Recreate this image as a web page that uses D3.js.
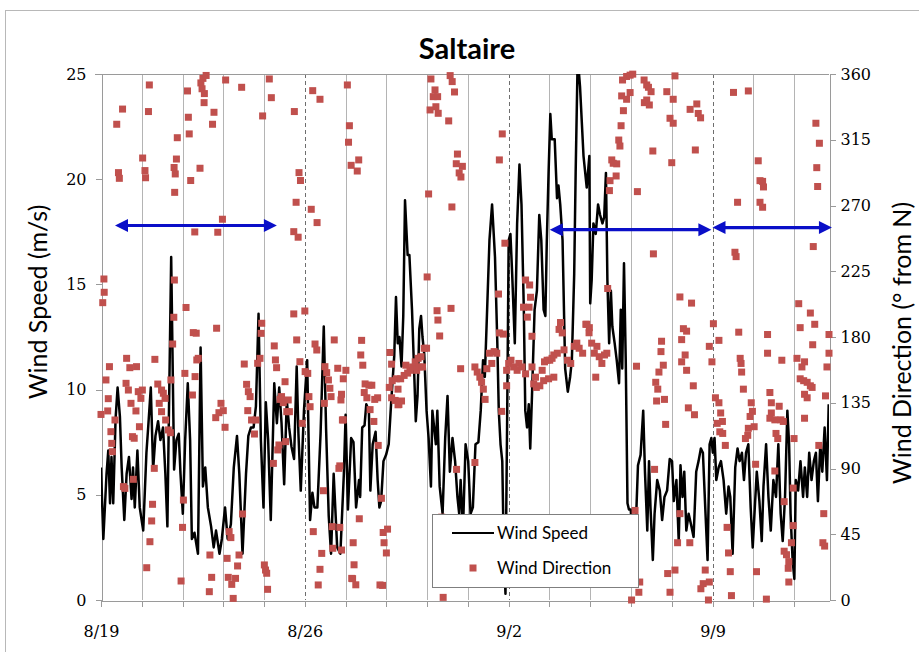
<!DOCTYPE html>
<html>
<head>
<meta charset="utf-8">
<script src="https://cdnjs.cloudflare.com/ajax/libs/d3/7.8.5/d3.min.js"></script>
<style>
  body { margin: 0; background: #fff; }
  svg text { font-family: Lato, "Open Sans", sans-serif; fill: #000; }
  .axis .tick text { font-family: "DejaVu Serif", serif; font-size: 16px; }
  .axis path, .axis line { stroke: #9a9a9a; shape-rendering: crispEdges; }
</style>
</head>
<body>
<svg id="chart" width="919" height="652"></svg>
<script>
// axis ticks
var speedTicks = [0, 5, 10, 15, 20, 25];
var dirTicks = [0, 45, 90, 135, 180, 225, 270, 315, 360];
var dateTicks = [0, 7, 14, 21];
var dateLabels = ["8/19", "8/26", "9/2", "9/9"];

// wind speed, [days since 8/19, m/s]
var windSpeed = [
  [0.00,6.3],[0.08,2.9],[0.19,6.0],[0.25,7.1],[0.31,4.6],[0.36,6.8],[0.42,4.6],[0.50,8.6],[0.57,10.1],[0.65,8.7],
  [0.71,6.3],[0.80,3.8],[0.88,6.0],[0.96,6.8],[1.05,4.8],[1.10,6.3],[1.16,4.4],[1.25,7.1],[1.33,4.4],[1.45,3.3],
  [1.56,7.0],[1.62,8.2],[1.71,10.1],[1.79,6.2],[1.87,7.8],[1.96,8.5],[2.04,7.6],[2.13,8.2],[2.21,6.0],[2.28,3.5],
  [2.32,7.6],[2.41,16.3],[2.51,6.2],[2.59,7.6],[2.67,7.9],[2.73,6.0],[2.81,4.1],[2.89,7.6],[2.98,10.3],[3.06,7.6],
  [3.12,2.9],[3.21,3.2],[3.33,2.2],[3.42,12.0],[3.50,5.4],[3.58,6.3],[3.67,4.4],[3.78,3.5],[3.87,2.5],[3.95,3.3],
  [4.07,2.2],[4.15,2.9],[4.26,4.4],[4.35,2.9],[4.46,3.6],[4.56,6.3],[4.67,7.8],[4.75,6.0],[4.86,2.2],[4.98,6.0],
  [5.06,7.8],[5.15,8.2],[5.24,8.2],[5.32,9.2],[5.41,13.6],[5.49,7.6],[5.58,4.4],[5.66,9.4],[5.74,7.6],[5.83,3.8],
  [5.95,10.3],[6.04,8.4],[6.12,10.1],[6.20,8.4],[6.29,5.5],[6.38,9.5],[6.46,8.2],[6.54,7.3],[6.63,6.7],[6.72,11.1],
  [6.78,7.9],[6.86,5.2],[6.97,9.0],[7.08,11.4],[7.18,3.8],[7.26,5.1],[7.33,4.4],[7.43,4.4],[7.54,7.9],[7.65,13.0],
  [7.73,8.1],[7.82,4.0],[7.90,2.2],[7.99,6.0],[8.11,2.5],[8.22,2.2],[8.34,6.0],[8.40,8.8],[8.48,4.3],[8.59,7.7],
  [8.67,7.5],[8.76,4.4],[8.86,5.7],[8.90,4.9],[8.97,8.2],[9.05,8.3],[9.11,9.3],[9.20,9.0],[9.25,5.2],[9.33,7.4],
  [9.43,8.0],[9.50,5.7],[9.56,4.4],[9.62,4.7],[9.70,6.6],[9.79,6.9],[9.88,7.4],[9.96,9.3],[10.07,11.6],[10.13,14.4],
  [10.19,12.2],[10.25,12.5],[10.32,11.1],[10.38,13.5],[10.44,19.0],[10.53,16.4],[10.59,16.4],[10.68,13.8],[10.76,10.6],[10.81,8.5],
  [10.87,9.7],[10.93,12.9],[10.99,13.5],[11.04,12.5],[11.10,11.7],[11.18,9.0],[11.25,7.7],[11.33,5.4],[11.38,9.0],[11.44,8.2],
  [11.50,7.4],[11.55,9.0],[11.63,5.4],[11.73,4.1],[11.82,7.7],[11.90,9.7],[11.98,6.1],[12.07,7.7],[12.16,6.6],[12.24,4.9],
  [12.30,4.1],[12.35,5.7],[12.43,3.3],[12.52,7.4],[12.61,6.6],[12.69,4.1],[12.77,4.4],[12.86,7.4],[12.96,7.5],[13.04,9.0],
  [13.12,11.4],[13.18,10.6],[13.26,13.8],[13.34,17.1],[13.43,18.8],[13.53,16.3],[13.61,12.2],[13.66,9.0],[13.72,7.4],[13.78,6.6],
  [13.83,2.5],[13.89,0.3],[13.95,9.0],[14.00,17.1],[14.06,17.4],[14.12,15.5],[14.21,12.2],[14.29,17.9],[14.37,20.7],[14.44,18.8],
  [14.52,13.8],[14.57,9.0],[14.63,8.2],[14.69,9.3],[14.74,7.2],[14.80,9.7],[14.89,13.8],[14.97,14.7],[15.05,18.3],[15.12,17.1],
  [15.20,13.8],[15.26,13.5],[15.31,17.1],[15.37,20.3],[15.43,23.1],[15.48,21.9],[15.58,21.9],[15.66,19.1],[15.71,19.7],[15.77,18.8],
  [15.85,17.1],[15.94,11.0],[16.03,9.9],[16.11,10.6],[16.17,11.4],[16.25,15.5],[16.30,20.3],[16.37,25.8],[16.45,24.4],[16.57,21.1],
  [16.68,19.6],[16.77,21.1],[16.80,14.1],[16.85,15.2],[16.91,17.9],[16.99,17.4],[17.07,18.8],[17.14,18.3],[17.22,17.9],[17.28,18.2],
  [17.34,20.3],[17.39,15.2],[17.45,12.2],[17.51,14.7],[17.56,13.0],[17.64,12.2],[17.71,11.4],[17.79,10.3],[17.85,13.8],[17.90,11.0],
  [17.96,16.0],[18.02,11.4],[18.08,4.6],[18.13,4.3],[18.19,4.3],[18.28,2.5],[18.36,3.3],[18.44,6.4],[18.53,6.9],[18.62,9.0],
  [18.68,6.1],[18.76,3.3],[18.82,6.6],[18.87,4.4],[18.95,1.9],[19.01,4.1],[19.10,5.7],[19.19,5.2],[19.27,3.8],[19.35,4.9],
  [19.44,5.2],[19.53,6.7],[19.61,6.6],[19.67,4.7],[19.76,5.7],[19.84,2.8],[19.90,6.4],[19.97,4.9],[20.03,6.1],[20.10,3.3],
  [20.18,4.1],[20.26,3.6],[20.35,3.0],[20.44,6.1],[20.52,6.6],[20.60,7.2],[20.67,7.0],[20.75,4.4],[20.83,1.9],[20.90,7.4],
  [20.96,7.7],[21.01,7.0],[21.07,7.7],[21.13,5.7],[21.21,6.3],[21.29,6.6],[21.38,5.7],[21.47,4.1],[21.55,5.4],[21.61,4.9],
  [21.69,2.2],[21.78,6.3],[21.86,7.2],[21.93,6.6],[22.01,7.0],[22.08,5.7],[22.15,7.0],[22.23,7.4],[22.31,4.4],[22.38,2.5],
  [22.46,4.6],[22.52,6.1],[22.61,4.7],[22.69,2.8],[22.75,5.4],[22.84,7.4],[22.92,4.9],[23.00,3.3],[23.09,5.7],[23.18,4.9],
  [23.26,7.4],[23.34,4.1],[23.41,2.8],[23.49,4.9],[23.57,9.0],[23.63,7.4],[23.68,4.1],[23.75,1.9],[23.81,1.0],[23.86,5.7],
  [23.94,5.2],[24.02,6.6],[24.11,4.9],[24.17,6.3],[24.25,4.9],[24.32,7.0],[24.40,5.7],[24.48,6.6],[24.55,7.0],[24.62,4.7],
  [24.70,7.4],[24.77,6.1],[24.85,8.2],[24.93,5.7],[24.99,9.3]
];

// wind direction, [days since 8/19, degrees from N]
var windDir = [
  [0.06,203.5],[0.11,210.6],[0.10,219.7],[0.54,325.6],[0.74,336],[0.60,292.5],[0.63,288.6],[1.43,302.5],[1.51,293.9],[1.53,289],
  [1.66,352.5],[1.63,334.3],[2.51,296],[2.55,291.6],[2.59,301.8],[2.53,279],[2.62,316.4],[3.03,319],[3.00,330.4],[2.97,348.4],
  [3.08,287.1],[3.40,295.5],[3.22,251.9],[3.50,357],[3.43,353.9],[3.47,349.9],[3.55,346.6],[3.54,340.4],[3.61,359],[3.88,333.8],
  [3.83,325.6],[4.17,260.6],[4.01,251.7],[4.28,355.9],[4.83,350.9],[5.55,331.3],[5.78,356.6],[5.85,343.8],[6.64,334.3],[6.80,292.5],
  [6.85,287.1],[6.70,272.2],[6.62,252.1],[6.77,248.3],[7.27,348.6],[7.52,342.7],[7.22,267.4],[7.42,258.3],[7.00,197.8],[6.62,195.8],
  [2.52,219],[2.50,193.5],[2.92,200.2],[3.97,186],[3.27,182.6],[5.52,189.4],[5.50,182.5],
  [0.00,127],[0.17,150.6],[0.23,129.4],[0.25,137.8],[0.29,159.7],[0.34,115.2],[0.37,107.2],[0.39,101.5],[0.48,123.2],[0.77,77.6],
  [0.82,76.4],[0.88,165.4],[0.99,159],[0.94,143.7],[0.86,148.3],[1.03,134.6],[1.08,111.8],[1.14,110.7],[1.20,129.4],[1.22,159.7],
  [1.11,82.6],[1.32,118.6],[1.28,142.6],[1.37,138],[1.42,143.7],[1.57,22.1],[1.68,39.9],[1.74,54.1],[1.77,65.5],[1.83,90.1],
  [1.85,164.7],[1.95,147.8],[2.00,134.6],[2.08,143.7],[2.14,141.5],[2.20,138],[2.08,128.9],[2.22,123.2],[2.31,116.4],[2.38,114.5],
  [2.40,150.6],[2.46,175.2],[2.75,13],[2.83,68.4],[2.80,49.7],[2.88,155.1],[3.17,183],[3.14,140.3],[3.23,152.9],[3.29,164.3],
  [3.34,165.4],[3.74,30.8],[3.72,5.7],[3.80,15.5],[3.94,124.8],[4.05,128.2],[4.12,134.6],[4.20,129.6],[4.26,118.2],[4.33,28.5],
  [4.37,15.5],[4.40,46.8],[4.46,42.7],[4.49,10.7],[4.54,1.1],[4.62,14.8],[4.69,23.3],[4.74,30.8],[4.86,58.9],[4.92,161.5],
  [5.00,147.6],[5.06,142.6],[5.12,139.2],[5.04,129.6],[5.17,123.2],[5.27,113.6],[5.32,123.2],[5.38,162],[5.46,165.4],[5.61,24],
  [5.65,20.5],[5.69,18.3],[5.72,7.3],[5.92,93.5],[5.95,173.9],[5.99,164.3],[6.03,159],[6.07,102.7],[6.11,106.1],[6.15,137.3],
  [6.20,139.2],[6.26,135.1],[6.32,149.4],[6.38,128.9],[6.43,136.9],[6.47,128.9],[6.34,108.4],[6.72,178],[6.83,163.1],[6.91,120.9],
  [7.01,156.3],[7.10,155.1],[7.14,139.2],[7.18,132.3],[7.29,46.8],[7.35,175.2],[7.41,171.1],[7.58,31.9],[7.52,21],[7.46,10.3],
  [7.64,74.8],[7.67,134.6],[7.69,159.7],[7.75,155.6],[7.81,150.6],[7.86,144.9],[7.90,139.2],[7.94,50.2],[8.01,178],[8.13,158.6],
  [8.17,90.1],[8.26,34.2],[8.24,136.9],[8.29,123.2],[7.96,35.4],
  [8.46,352.5],[8.53,324.6],[8.50,313.3],[8.85,301.2],[8.59,297.5],[8.80,293.6],[11.33,356.6],[11.47,349.1],[11.41,344.5],[11.56,344.5],
  [11.30,335.4],[11.50,337.6],[11.58,333.1],[11.94,327.9],[11.99,358.9],[12.06,354.8],[12.14,347.7],[11.25,277.9],[11.20,221.1],[12.05,269],
  [12.24,305.2],[12.20,298.6],[12.41,296.8],[12.30,292.3],[12.36,289.5],[11.54,198],[11.57,191.6],[12.02,199.6],[11.63,180.7],[13.68,301.2],
  [13.78,319],[13.87,244.2],[13.65,209.4],[13.82,182],[14.58,219],[14.72,215.6],[14.75,207.2],[14.51,200.4],[14.70,200.4],[14.64,193.6],
  [8.41,157.2],[8.32,151.4],[8.26,140.8],[8.32,123.3],[8.20,49.7],[8.95,177.7],[8.92,167.7],[8.99,160.7],[9.07,147.9],[9.20,147],
  [9.30,147],[9.04,142],[9.13,138.4],[9.24,130.3],[9.40,137.3],[9.50,138.4],[9.37,122.2],[9.52,105.8],[9.63,69.6],[8.87,55.6],
  [8.66,39.2],[8.69,24.1],[8.64,14.6],[8.75,10.4],[9.69,46.2],[9.84,48.5],[9.72,39.2],[9.80,32.2],[9.67,10],[8.20,91.8],
  [9.58,10.3],[8.61,14.8],
  [9.92,169.4],[9.98,161.4],[9.90,145.5],[9.98,138.4],[10.10,136.6],[10.20,133.6],[10.00,150.1],[10.14,151.4],[10.29,151.4],[10.41,153.7],
  [10.53,155.3],[10.61,157.2],[10.70,159.5],[10.79,163],[10.89,165.4],[10.99,166.5],[11.10,172.3],[11.18,172.3],[10.84,157.2],[10.93,159.5],
  [11.04,159.5],[10.47,160.7],[10.20,144.3],[10.32,136.2],[10.23,133.8],
  [11.70,56.7],[12.21,89.4],[12.84,94.1],[11.75,1.8],
  [12.35,158.3],[12.84,159.5],[12.92,156],[13.01,152.5],[13.07,149],[13.13,144.3],[13.19,137.3],[13.25,158.3],[13.34,168.9],[13.42,161.9],
  [13.50,170],[13.59,168.9],[13.68,182.8],[13.76,129.1],[13.93,157.2],[14.00,161.9],[14.08,164.1],[14.17,159.5],[14.29,157.2],[14.35,161.9],
  [14.46,159.5],[14.58,154.8],[13.93,146.6],[14.80,159.5],[14.86,147.9],[14.95,145.5],[15.07,146.6],[15.15,157.2],[15.23,163],[15.32,164.1],
  [15.41,164.1],[15.49,165.4],[15.55,167.7],[15.67,168.9],[15.73,185.2],[15.84,182.8],[15.90,171.2],[16.02,164.1],[16.13,161.9],[16.25,173.6],
  [16.34,175.8],[16.42,172.3],[16.54,168.9],[16.65,188.7],[16.77,186.4],[14.92,152.5],[15.20,150.1],[15.37,151.4],[15.55,152.5],[14.80,180.5],
  [15.78,189.9],
  [17.91,355.9],[18.05,358.3],[18.17,359.2],[18.26,359.9],[18.65,355.9],[18.74,352.5],[18.80,350.9],[18.89,347.9],[19.71,358.7],[19.43,347.9],
  [19.65,342.7],[17.88,345],[18.05,342.7],[18.17,347.3],[18.66,340.4],[18.83,338.8],[18.74,342.2],[17.94,334.9],[17.86,324.6],[17.78,314.8],
  [17.82,310.7],[17.54,301.2],[17.59,298.9],[17.71,298.5],[17.69,290.2],[17.48,287],[17.46,280.2],[18.42,279.5],[18.95,307.3],[19.54,329.7],
  [19.65,326.3],[19.60,299.3],[20.23,335.8],[20.46,339.5],[20.51,333],[20.59,330],[20.41,308],[21.72,347.4],[22.23,348.4],[22.57,300.6],
  [22.63,287],[22.72,286.5],[22.75,282.7],[22.63,272.2],[22.72,268.8],[21.86,272.2],[24.55,326.3],[24.67,312.6],[24.58,295.9],[24.61,283],
  [24.46,241.9],[21.77,238],[21.81,235],[18.97,236.9],
  [16.68,188.7],[16.76,182.9],[16.85,175.8],[16.94,168.9],[17.03,173.6],[17.11,166.5],[17.20,161.9],[17.29,167.7],[17.37,168.9],[16.99,152.5],
  [17.40,213.2],[18.39,160],[19.25,177.1],[19.23,170],[19.31,160.7],[19.16,156],[19.05,149],[19.12,144.3],[19.08,136.2],[19.35,137.3],
  [19.39,120.2],[19.88,207.4],[20.28,203.2],[20.00,185.7],[20.11,184],[19.94,178.2],[20.06,167.7],[19.94,163],[20.11,157.2],[20.34,146.6],
  [20.17,131.5],[20.38,126.8],[19.01,89.4],[19.88,59.1],[19.80,39.2],[20.22,39.2],[19.71,20.5],[19.46,18.1],[19.54,5.3],[18.50,12.3],
  [18.47,5.3],[18.22,0],[18.34,61.3],[20.60,7.7],[20.68,11.2],[20.75,20.5],[20.89,12.3],[20.86,0],[20.89,173.6],[20.98,163],
  [21.03,189.1],[21.22,177.7],[21.10,138.4],[21.22,135],[21.28,128],[21.34,122.2],[21.16,120.9],[21.25,115.1],[21.35,114],[21.44,105.8],
  [21.50,49.7],[21.55,32.2],[21.61,19.4],[21.65,3],[21.90,183.3],[21.95,165.4],[21.98,161.9],[22.00,156],[22.06,144.3],[22.33,135],
  [22.37,129.1],[22.29,125.6],[22.23,117.5],[22.21,112.7],[22.13,110.5],[22.43,118.6],[22.48,92.9],[22.51,19.4],[22.85,0.6],[22.89,181.7],
  [22.89,168.9],[23.38,164.1],[22.97,142],[23.02,135],[23.02,128],[22.97,124.4],[23.14,123.3],[23.29,132.6],[23.35,123.3],[23.43,122.2],
  [23.18,114],[23.24,110.5],[23.14,88.3],[23.46,67.3],[23.46,33.4],[23.54,31],[23.62,26.3],[23.60,21.7],[23.62,12.3],[23.71,39.2],
  [23.77,76.6],[23.80,110.5],[23.77,50.9],[23.90,165.4],[23.96,202.8],[24.01,186.4],[24.07,159.5],[24.16,163],[24.01,151.4],[24.13,150.1],
  [24.25,149],[24.36,146.6],[24.42,145.5],[24.16,140.8],[24.25,138.4],[24.16,124.4],[24.36,196.4],[24.51,188.7],[24.44,174.7],[24.65,105.8],
  [24.82,59.1],[24.79,39.2],[24.85,36.9],[24.88,139.7],[24.93,159.5],[25.00,168.9],[25.00,181.7]
];

// blue period arrows, [start day, end day, height in m/s]
var arrows = [[0.48, 6.04, 17.8], [15.41, 20.96, 17.6], [21.0, 25.1, 17.7]];

var svg = d3.select("#chart");
var L = 101, R = 829, T = 74, B = 600;

var x = d3.scaleLinear().domain([0, 25]).range([L, R]);
var ySpeed = d3.scaleLinear().domain([0, 25]).range([B, T]);
var yDir = d3.scaleLinear().domain([0, 360]).range([B, T]);

// outer chart border
svg.append("rect").attr("x", 5.5).attr("y", 10.5).attr("width", 940).attr("height", 660)
  .attr("fill", "#fff").attr("stroke", "#b8b8b8");

svg.append("defs").append("clipPath").attr("id", "plot")
  .append("rect").attr("x", L).attr("y", T).attr("width", R - L).attr("height", B - T);

// vertical grid every 1.4 days, dashed at the weekly labels
var gridDays = d3.range(0, 18).map(function (i) { return i * 1.4; });
svg.append("g").selectAll("line").data(gridDays.slice(1)).enter().append("line")
  .attr("x1", function (d) { return Math.round(x(d)) + 0.5; })
  .attr("x2", function (d) { return Math.round(x(d)) + 0.5; })
  .attr("y1", T).attr("y2", B)
  .attr("stroke", function (d, i) { return (i + 1) % 5 == 0 ? "#6e6e6e" : "#b4b4b4"; })
  .attr("stroke-dasharray", function (d, i) { return (i + 1) % 5 == 0 ? "4,3" : null; });

// top border of the plot area
svg.append("line").attr("x1", L - 6).attr("x2", R).attr("y1", T + 0.5).attr("y2", T + 0.5)
  .attr("stroke", "#9a9a9a");

// axes
svg.append("g").attr("class", "axis").attr("transform", "translate(" + (L + 0.5) + ",0)")
  .call(d3.axisLeft(ySpeed).tickValues(speedTicks).tickSize(6).tickSizeOuter(0).tickPadding(9));
svg.append("g").attr("class", "axis").attr("transform", "translate(" + (R + 0.5) + ",0)")
  .call(d3.axisRight(yDir).tickValues(dirTicks).tickSize(6).tickSizeOuter(0).tickPadding(5));
svg.append("g").attr("class", "axis").attr("transform", "translate(0," + (B + 0.5) + ")")
  .call(d3.axisBottom(x).tickValues(gridDays).tickSize(6).tickSizeOuter(0).tickPadding(19)
    .tickFormat(function (d, i) {
      var k = dateTicks.indexOf(Math.round(d * 10) / 10);
      return k >= 0 ? dateLabels[k] : "";
    }));

// wind speed line
var line = d3.line()
  .x(function (d) { return x(d[0]); })
  .y(function (d) { return ySpeed(d[1]); });
svg.append("path").datum(windSpeed).attr("clip-path", "url(#plot)")
  .attr("d", line).attr("fill", "none").attr("stroke", "#000")
  .attr("stroke-width", 2.5).attr("stroke-linejoin", "round");

// wind direction markers
var sq = 7;
svg.append("g").selectAll("rect").data(windDir).enter().append("rect")
  .attr("x", function (d) { return x(d[0]) - sq / 2; })
  .attr("y", function (d) { return yDir(d[1]) - sq / 2; })
  .attr("width", sq).attr("height", sq)
  .attr("fill", "#c0504d");

// arrows
var blue = "#0a0fc8";
var ag = svg.append("g");
arrows.forEach(function (a) {
  var x1 = x(a[0]), x2 = x(a[1]), y = ySpeed(a[2]);
  ag.append("line").attr("x1", x1 + 8).attr("x2", x2 - 8).attr("y1", y).attr("y2", y)
    .attr("stroke", blue).attr("stroke-width", 3.2);
  ag.append("path").attr("fill", blue)
    .attr("d", "M" + x1 + "," + y + "l13,-6.5v13z");
  ag.append("path").attr("fill", blue)
    .attr("d", "M" + x2 + "," + y + "l-13,-6.5v13z");
});

// legend
var lg = svg.append("g").attr("transform", "translate(432,514)");
lg.append("rect").attr("x", 0.5).attr("y", 0.5).attr("width", 206).attr("height", 73)
  .attr("fill", "#fff").attr("stroke", "#7f7f7f");
lg.append("line").attr("x1", 20).attr("x2", 62).attr("y1", 19).attr("y2", 19)
  .attr("stroke", "#000").attr("stroke-width", 2.2);
lg.append("rect").attr("x", 41 - sq / 2).attr("y", 54 - sq / 2).attr("width", sq).attr("height", sq)
  .attr("fill", "#c0504d");
lg.append("text").attr("x", 65).attr("y", 25).style("font-size", "17px").text("Wind Speed");
lg.append("text").attr("x", 65).attr("y", 60).style("font-size", "17px").text("Wind Direction");

// titles
svg.append("text").attr("x", 467).attr("y", 59).attr("text-anchor", "middle")
  .style("font-size", "29px").style("font-weight", "bold").text("Saltaire");
svg.append("text").attr("transform", "translate(47,302) rotate(-90)").attr("text-anchor", "middle")
  .style("font-size", "25px").text("Wind Speed (m/s)");
svg.append("text").attr("transform", "translate(911,343) rotate(-90)").attr("text-anchor", "middle")
  .style("font-size", "25px").text("Wind Direction (° from N)");
</script>
</body>
</html>
